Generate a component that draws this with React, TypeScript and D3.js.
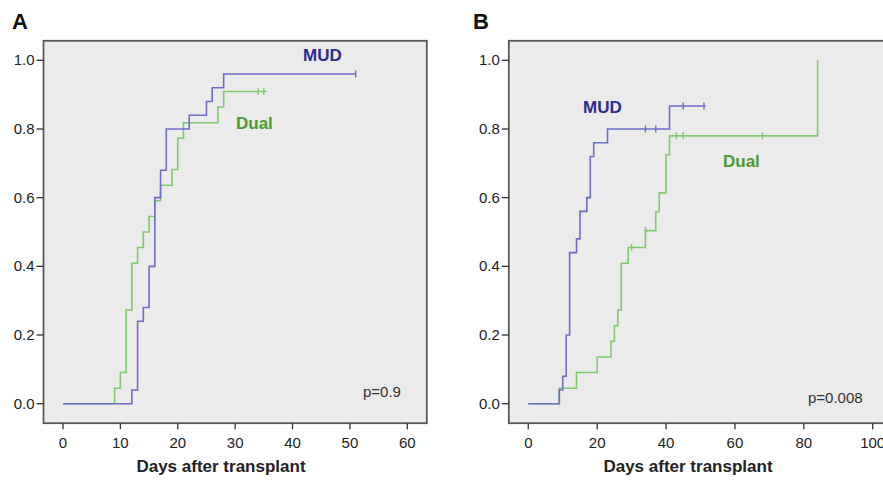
import React from "react";
import * as d3 from "d3";

// Panel A
const aMudTimes = [0, 12, 13, 14, 15, 16, 17, 18, 22, 25, 26, 28];
const aMudValues = [0, 0.04, 0.24, 0.28, 0.4, 0.6, 0.68, 0.8, 0.84, 0.88, 0.92, 0.96];
const aMudEnd = 51;
const aMudCensor = [51];

const aDualTimes = [0, 9, 10, 11, 12, 13, 14, 15, 16, 17, 19, 20, 21, 27, 28];
const aDualValues = [0, 0.045, 0.091, 0.273, 0.409, 0.455, 0.5, 0.545, 0.591, 0.636, 0.682, 0.773, 0.818, 0.864, 0.909];
const aDualEnd = 35.5;
const aDualCensor = [34, 35];

const aXTicks = [0, 10, 20, 30, 40, 50, 60];

// Panel B
const bMudTimes = [0, 9, 10, 11, 12, 14, 15, 17, 18, 19, 23, 41];
const bMudValues = [0, 0.04, 0.08, 0.2, 0.44, 0.48, 0.56, 0.6, 0.72, 0.76, 0.8, 0.867];
const bMudEnd = 51.5;
const bMudCensor = [34, 37, 45, 51];

const bDualTimes = [0, 9, 14, 20, 24, 25, 26, 27, 29, 34, 37, 38, 40, 41, 84];
const bDualValues = [0, 0.045, 0.091, 0.136, 0.182, 0.227, 0.273, 0.409, 0.455, 0.504, 0.559, 0.614, 0.725, 0.78, 1.0];
const bDualEnd = 84;
const bDualCensor = [30, 34, 43, 45, 68];

const bXTicks = [0, 20, 40, 60, 80, 100];

const yTicks = [0, 0.2, 0.4, 0.6, 0.8, 1.0];

const FONT = "'Liberation Sans', Arial, Helvetica, sans-serif";
const MUD_LINE = "#6e6ec6";
const DUAL_LINE = "#80c96e";
const MUD_LABEL = "#2c2c8e";
const DUAL_LABEL = "#4b9a2f";

type Series = { times: number[]; values: number[]; end: number; censor: number[] };

function stepValueAt(s: Series, t: number) {
  let v = 0;
  for (let i = 0; i < s.times.length; i++) if (s.times[i] <= t) v = s.values[i];
  return v;
}

function Curve({ s, x, y, color }: { s: Series; x: any; y: any; color: string }) {
  const pts: [number, number][] = s.times.map((t, i) => [t, s.values[i]]);
  if (s.end > s.times[s.times.length - 1]) pts.push([s.end, s.values[s.values.length - 1]]);
  const line = d3
    .line<[number, number]>()
    .x((d) => x(d[0]))
    .y((d) => y(d[1]))
    .curve(d3.curveStepAfter);
  return (
    <g>
      <path d={line(pts) || ""} fill="none" stroke={color} strokeWidth={1.6} />
      {s.censor.map((c, i) => {
        const cy = y(stepValueAt(s, c));
        return <line key={i} x1={x(c)} x2={x(c)} y1={cy - 3.5} y2={cy + 3.5} stroke={color} strokeWidth={1.4} />;
      })}
    </g>
  );
}

function Panel(props: {
  letter: string;
  letterX: number;
  x0: number;
  x1: number;
  xMax: number;
  xTicks: number[];
  mud: Series;
  dual: Series;
  mudLabel: [number, number];
  dualLabel: [number, number];
  pText: string;
  pPos: [number, number];
  titleX: number;
}) {
  const x = d3.scaleLinear().domain([0, props.xMax]).range([props.x0, props.x1]);
  const y = d3.scaleLinear().domain([0, 1]).range([403.7, 60.3]);
  const pad = 19.5;
  const fl = props.x0 - pad;
  const fr = props.x1 + pad;
  const ft = y(1) - pad;
  const fb = y(0) + pad;
  return (
    <g>
      <text x={props.letterX} y={29} fontFamily={FONT} fontWeight="bold" fontSize={22} fill="#111">
        {props.letter}
      </text>
      <rect x={fl} y={ft} width={fr - fl} height={fb - ft} fill="#ebebeb" stroke="#5a5a5a" strokeWidth={1.8} />
      {yTicks.map((t) => (
        <g key={t}>
          <line x1={fl - 7} x2={fl} y1={y(t)} y2={y(t)} stroke="#333" strokeWidth={1.3} />
          <text x={fl - 9} y={y(t) + 5} textAnchor="end" fontFamily={FONT} fontSize={15} fill="#222">
            {t.toFixed(1)}
          </text>
        </g>
      ))}
      {props.xTicks.map((t) => (
        <g key={t}>
          <line x1={x(t)} x2={x(t)} y1={fb} y2={fb + 6} stroke="#333" strokeWidth={1.3} />
          <text x={x(t)} y={448} textAnchor="middle" fontFamily={FONT} fontSize={15} fill="#222">
            {t}
          </text>
        </g>
      ))}
      <text x={props.titleX} y={472} textAnchor="middle" fontFamily={FONT} fontWeight="bold" fontSize={17} fill="#222">
        Days after transplant
      </text>
      <Curve s={props.dual} x={x} y={y} color={DUAL_LINE} />
      <Curve s={props.mud} x={x} y={y} color={MUD_LINE} />
      <text x={props.mudLabel[0]} y={props.mudLabel[1]} fontFamily={FONT} fontWeight="bold" fontSize={17} fill={MUD_LABEL}>
        MUD
      </text>
      <text x={props.dualLabel[0]} y={props.dualLabel[1]} fontFamily={FONT} fontWeight="bold" fontSize={17} fill={DUAL_LABEL}>
        Dual
      </text>
      <text x={props.pPos[0]} y={props.pPos[1]} fontFamily={FONT} fontSize={15} fill="#333">
        {props.pText}
      </text>
    </g>
  );
}

export default function App() {
  return (
    <svg width={883} height={480} style={{ position: "absolute", left: 0, top: 0, background: "#fff" }}>
      <Panel
        letter="A"
        letterX={12}
        x0={63}
        x1={407.3}
        xMax={60}
        xTicks={aXTicks}
        mud={{ times: aMudTimes, values: aMudValues, end: aMudEnd, censor: aMudCensor }}
        dual={{ times: aDualTimes, values: aDualValues, end: aDualEnd, censor: aDualCensor }}
        mudLabel={[303, 61]}
        dualLabel={[236, 129]}
        pText="p=0.9"
        pPos={[363, 397]}
        titleX={221}
      />
      <Panel
        letter="B"
        letterX={473}
        x0={528.3}
        x1={872.7}
        xMax={100}
        xTicks={bXTicks}
        mud={{ times: bMudTimes, values: bMudValues, end: bMudEnd, censor: bMudCensor }}
        dual={{ times: bDualTimes, values: bDualValues, end: bDualEnd, censor: bDualCensor }}
        mudLabel={[583, 113]}
        dualLabel={[723, 167]}
        pText="p=0.008"
        pPos={[808, 403]}
        titleX={688}
      />
    </svg>
  );
}
